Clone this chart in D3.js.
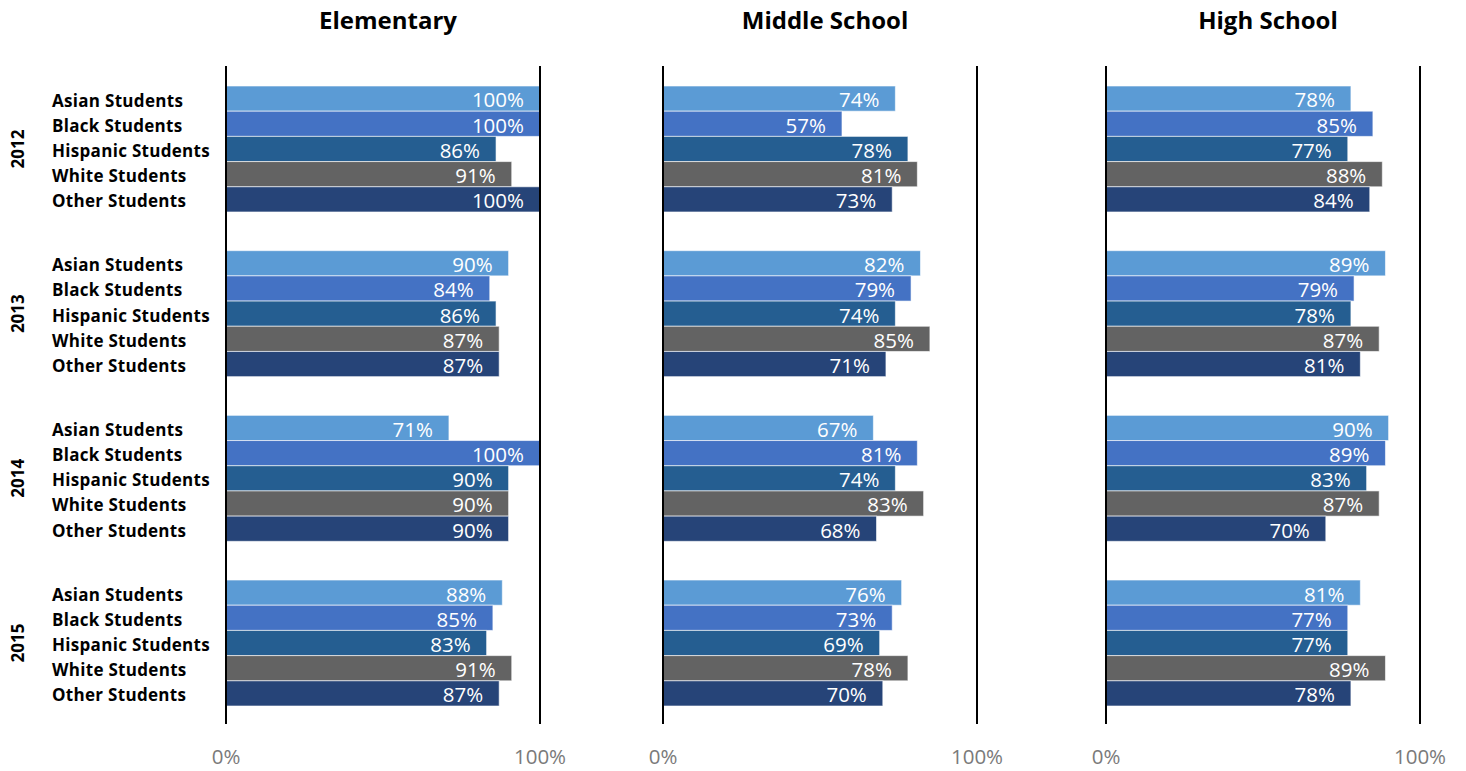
<!DOCTYPE html>
<html><head><meta charset="utf-8">
<script src="https://cdn.jsdelivr.net/npm/d3@7"></script>
<style>body{margin:0;background:#fff}svg{display:block}</style>
</head><body>
<svg id="c" width="1466" height="771"></svg>
<script>
const years = ["2012","2013","2014","2015"];
const groups = ["Asian Students","Black Students","Hispanic Students","White Students","Other Students"];
const panels = ["Elementary","Middle School","High School"];
const colors = ["#5B9BD5","#4472C4","#255E91","#636363","#264478"];
const tickLabels = ["0%","100%"];
// values[year][group]
const elementary = [[100,100,86,91,100],[90,84,86,87,87],[71,100,90,90,90],[88,85,83,91,87]];
const middle = [[74,57,78,81,73],[82,79,74,85,71],[67,81,74,83,68],[76,73,69,78,70]];
const high = [[78,85,77,88,84],[89,79,78,87,81],[90,89,83,87,70],[81,77,77,89,78]];
const panelData = [elementary, middle, high];
const panelX = [226, 663, 1106];
const panelW = 314;

const svg = d3.select("#c");
const yYear = d3.scaleBand().domain(years).range([86, 706]).paddingInner(0.235).paddingOuter(0);
const yGrp = d3.scaleBand().domain(groups).range([0, yYear.bandwidth()]).padding(0);

years.forEach((yr) => {
  const y0 = yYear(yr);
  svg.append("text").attr("transform", `translate(24,${y0 + yYear.bandwidth()/2}) rotate(-90)`)
    .attr("text-anchor","middle").attr("font-family","'Open Sans', sans-serif")
    .attr("font-weight","bold").attr("font-size",17).attr("fill","#000").text(yr);
  groups.forEach(g => {
    svg.append("text").attr("x",52).attr("y", y0 + yGrp(g) + yGrp.bandwidth()/2 + 2)
      .attr("dy","0.35em").attr("font-family","'Open Sans', sans-serif")
      .attr("font-weight","bold").attr("font-size",17).attr("letter-spacing","0.3px")
      .attr("fill","#000").text(g);
  });
});

panels.forEach((p, pi) => {
  const x = d3.scaleLinear().domain([0,100]).range([panelX[pi], panelX[pi] + panelW]);
  const gP = svg.append("g");
  gP.append("text").attr("x", (x(0)+x(100))/2 + 5).attr("y", 29)
    .attr("text-anchor","middle").attr("font-family","'Open Sans', sans-serif")
    .attr("font-weight","bold").attr("font-size",24).attr("fill","#000").text(p);
  years.forEach((yr, yi) => {
    const y0 = yYear(yr);
    groups.forEach((g, gi) => {
      const v = panelData[pi][yi][gi];
      const yy = y0 + yGrp(g);
      gP.append("rect").attr("x", x(0)).attr("y", yy).attr("width", x(v)-x(0))
        .attr("height", yGrp.bandwidth()).attr("fill", colors[gi])
        .attr("stroke","rgba(255,255,255,0.6)").attr("stroke-width",1);
      gP.append("text").attr("x", x(v) - 16).attr("y", yy + yGrp.bandwidth()/2 + 1.5)
        .attr("dy","0.36em").attr("text-anchor","end")
        .attr("font-family","'Open Sans', sans-serif").attr("font-size",20.5)
        .attr("fill","#fff").text(v + "%");
    });
  });
  [0,100].forEach((t, ti) => {
    gP.append("line").attr("x1", x(t)).attr("x2", x(t)).attr("y1", 66).attr("y2", 724)
      .attr("stroke","#000").attr("stroke-width",2);
    gP.append("text").attr("x", x(t)).attr("y", 764).attr("text-anchor","middle")
      .attr("font-family","'Open Sans', sans-serif").attr("font-size",20.5)
      .attr("fill","#7a7a7a").text(tickLabels[ti]);
  });
});
</script>
</body></html>
